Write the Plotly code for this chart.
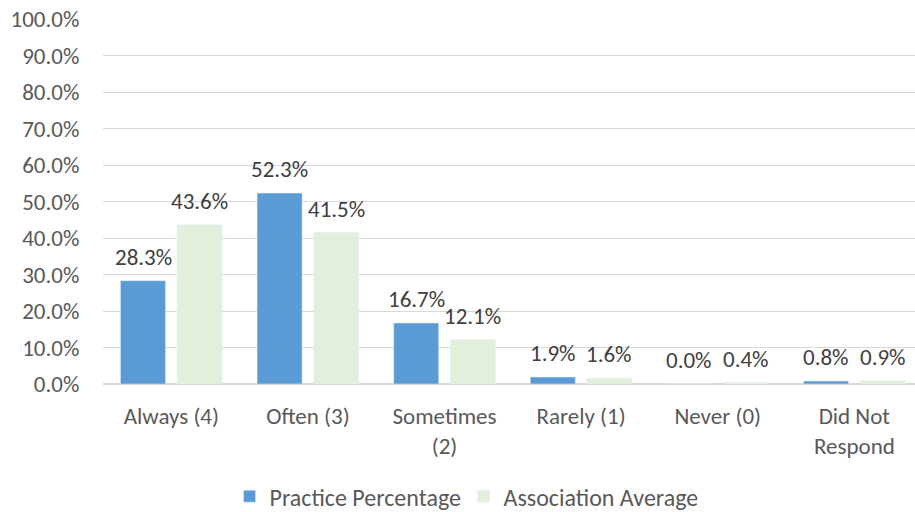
import plotly.graph_objects as go

categories = ["Always (4)", "Often (3)", "Sometimes<br>(2)", "Rarely (1)", "Never (0)", "Did Not<br>Respond"]
practice = [28.3, 52.3, 16.7, 1.9, 0.0, 0.8]
association = [43.6, 41.5, 12.1, 1.6, 0.4, 0.9]

font_family = "Carlito, Lato, sans-serif"

fig = go.Figure()
fig.add_trace(go.Bar(x=categories, y=practice, name="Practice Percentage",
                     marker=dict(color="#5B9BD5")))
fig.add_trace(go.Bar(x=categories, y=association, name="Association Average",
                     marker=dict(color="#E2EFDA")))

# value labels above each bar (offset to the bar centre within the group)
for values, shift in [(practice, -28.3), (association, 28.3)]:
    for cat, v in zip(categories, values):
        fig.add_annotation(x=cat, y=v, text=f"{v:.1f}%", showarrow=False,
                           xshift=shift, yshift=24, yanchor="middle",
                           font=dict(size=23, color="#404040"))

fig.update_layout(
    width=915, height=512,
    margin=dict(l=103, r=0, t=19, b=128),
    paper_bgcolor="white", plot_bgcolor="white",
    font=dict(family=font_family, size=23, color="#595959"),
    barmode="group", bargap=0.171, bargroupgap=0.205,
    showlegend=True,
    legend=dict(orientation="h", x=0.444, xanchor="center",
                yref="container", y=0.03, yanchor="middle",
                entrywidth=189, itemwidth=30,
                font=dict(size=24, color="#595959")),
)
fig.update_yaxes(range=[0, 100], dtick=10, tickformat=".1f", ticksuffix="%",
                 showgrid=True, gridcolor="#D9D9D9", gridwidth=1,
                 zeroline=True, zerolinecolor="#D9D9D9",
                 ticks="outside", ticklen=18, tickcolor="rgba(0,0,0,0)",
                 automargin=False)
fig.update_xaxes(range=[-0.5, 5.444], showline=True, linecolor="#D9D9D9", tickangle=0,
                 ticks="outside", ticklen=11, tickcolor="rgba(0,0,0,0)",
                 automargin=False)

# drop the default body margin so the figure sits at the window's corner
fig.write_html("out.html", config={"displayModeBar": False},
               post_script="document.body.style.margin='0';")
